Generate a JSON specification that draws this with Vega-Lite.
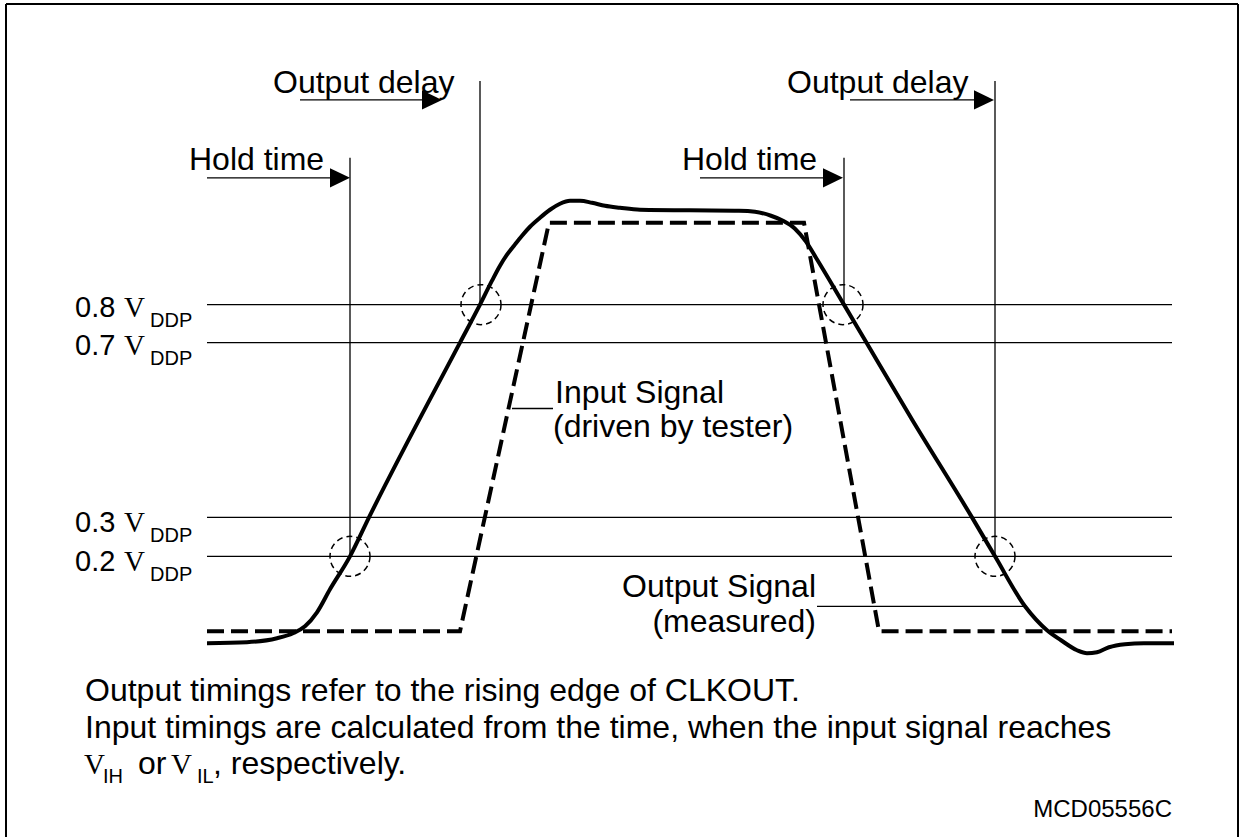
{
  "$schema": "https://vega.github.io/schema/vega-lite/v6.json",
  "width": 1243,
  "height": 838,
  "autosize": {"type": "fit", "contains": "padding"},
  "padding": 0,
  "background": "white",
  "config": {"view": {"stroke": null}},
  "datasets": {
    "segs": [
      {"kind": "frame", "x": 6, "y": 4, "x2": 1238, "y2": 4},
      {"kind": "frame", "x": 6, "y": 4, "x2": 6, "y2": 838},
      {"kind": "frame", "x": 1238, "y": 4, "x2": 1238, "y2": 838},
      {"kind": "level", "x": 207, "y": 305, "x2": 1172, "y2": 305},
      {"kind": "level", "x": 207, "y": 343, "x2": 1172, "y2": 343},
      {"kind": "level", "x": 207, "y": 518, "x2": 1172, "y2": 518},
      {"kind": "level", "x": 207, "y": 557, "x2": 1172, "y2": 557},
      {"kind": "level", "x": 350, "y": 158, "x2": 350, "y2": 557},
      {"kind": "level", "x": 480, "y": 81, "x2": 480, "y2": 305},
      {"kind": "level", "x": 844, "y": 158, "x2": 844, "y2": 305},
      {"kind": "level", "x": 995, "y": 81, "x2": 995, "y2": 557},
      {"kind": "level", "x": 300, "y": 100, "x2": 432, "y2": 100},
      {"kind": "level", "x": 207, "y": 178, "x2": 338, "y2": 178},
      {"kind": "level", "x": 700, "y": 178, "x2": 832, "y2": 178},
      {"kind": "level", "x": 850, "y": 100, "x2": 982, "y2": 100},
      {"kind": "level", "x": 512, "y": 409, "x2": 553, "y2": 409},
      {"kind": "level", "x": 817, "y": 607, "x2": 1025, "y2": 607}
    ],
    "heads": [
      {"x": 442, "y": 100},
      {"x": 350, "y": 178},
      {"x": 843, "y": 178},
      {"x": 994, "y": 100}
    ],
    "circles": [
      {"x": 350, "y": 557},
      {"x": 481, "y": 305},
      {"x": 843, "y": 305},
      {"x": 995, "y": 557}
    ],
    "signals": [
      {"signal": "Input", "x": 207, "y": 632},
      {"signal": "Input", "x": 460, "y": 632},
      {"signal": "Input", "x": 549, "y": 223},
      {"signal": "Input", "x": 804, "y": 223},
      {"signal": "Input", "x": 879, "y": 632},
      {"signal": "Input", "x": 1172, "y": 632},
      {"signal": "Output", "x": 207, "y": 644},
      {"signal": "Output", "x": 247, "y": 643},
      {"signal": "Output", "x": 277, "y": 639},
      {"signal": "Output", "x": 293, "y": 634},
      {"signal": "Output", "x": 305, "y": 627},
      {"signal": "Output", "x": 317, "y": 613},
      {"signal": "Output", "x": 330, "y": 590},
      {"signal": "Output", "x": 350, "y": 557},
      {"signal": "Output", "x": 369, "y": 518},
      {"signal": "Output", "x": 460, "y": 343},
      {"signal": "Output", "x": 480, "y": 305},
      {"signal": "Output", "x": 492, "y": 281},
      {"signal": "Output", "x": 500, "y": 266},
      {"signal": "Output", "x": 507, "y": 255},
      {"signal": "Output", "x": 514, "y": 246},
      {"signal": "Output", "x": 522, "y": 236},
      {"signal": "Output", "x": 530, "y": 227},
      {"signal": "Output", "x": 540, "y": 218},
      {"signal": "Output", "x": 550, "y": 210},
      {"signal": "Output", "x": 560, "y": 204},
      {"signal": "Output", "x": 570, "y": 201},
      {"signal": "Output", "x": 580, "y": 201},
      {"signal": "Output", "x": 592, "y": 203},
      {"signal": "Output", "x": 605, "y": 206},
      {"signal": "Output", "x": 620, "y": 208},
      {"signal": "Output", "x": 640, "y": 210},
      {"signal": "Output", "x": 739, "y": 211},
      {"signal": "Output", "x": 755, "y": 212},
      {"signal": "Output", "x": 771, "y": 216},
      {"signal": "Output", "x": 783, "y": 221},
      {"signal": "Output", "x": 795, "y": 229},
      {"signal": "Output", "x": 806, "y": 242},
      {"signal": "Output", "x": 816, "y": 258},
      {"signal": "Output", "x": 844, "y": 305},
      {"signal": "Output", "x": 867, "y": 344},
      {"signal": "Output", "x": 912, "y": 420},
      {"signal": "Output", "x": 972, "y": 518},
      {"signal": "Output", "x": 995, "y": 557},
      {"signal": "Output", "x": 1025, "y": 607},
      {"signal": "Output", "x": 1047, "y": 631},
      {"signal": "Output", "x": 1061, "y": 641},
      {"signal": "Output", "x": 1077, "y": 651},
      {"signal": "Output", "x": 1087, "y": 654},
      {"signal": "Output", "x": 1097, "y": 653},
      {"signal": "Output", "x": 1109, "y": 648},
      {"signal": "Output", "x": 1125, "y": 645},
      {"signal": "Output", "x": 1144, "y": 644},
      {"signal": "Output", "x": 1174, "y": 644}
    ],
    "texts": [
      {"kind": "main", "x": 273, "y": 93, "text": "Output delay"},
      {"kind": "main", "x": 787, "y": 93, "text": "Output delay"},
      {"kind": "main", "x": 189, "y": 170, "text": "Hold time"},
      {"kind": "main", "x": 682, "y": 170, "text": "Hold time"},
      {"kind": "main", "x": 555, "y": 403, "text": "Input Signal"},
      {"kind": "main", "x": 553, "y": 438, "text": "(driven by tester)"},
      {"kind": "mainright", "x": 816, "y": 598, "text": "Output Signal"},
      {"kind": "mainright", "x": 816, "y": 633, "text": "(measured)"},
      {"kind": "main", "x": 85, "y": 702, "text": "Output timings refer to the rising edge of CLKOUT."},
      {"kind": "main", "x": 85, "y": 739, "text": "Input timings are calculated from the time, when the input signal reaches"},
      {"kind": "main", "x": 138, "y": 775, "text": "or"},
      {"kind": "main", "x": 213, "y": 775, "text": ", respectively."},
      {"kind": "serif", "x": 84, "y": 775, "text": "V"},
      {"kind": "serif", "x": 171, "y": 775, "text": "V"},
      {"kind": "sub", "x": 103, "y": 784, "text": "IH"},
      {"kind": "sub", "x": 197, "y": 784, "text": "IL"},
      {"kind": "label", "x": 75, "y": 317, "text": "0.8"},
      {"kind": "label", "x": 75, "y": 355, "text": "0.7"},
      {"kind": "label", "x": 75, "y": 533, "text": "0.3"},
      {"kind": "label", "x": 75, "y": 572, "text": "0.2"},
      {"kind": "serif", "x": 124, "y": 317, "text": "V"},
      {"kind": "serif", "x": 124, "y": 355, "text": "V"},
      {"kind": "serif", "x": 124, "y": 533, "text": "V"},
      {"kind": "serif", "x": 124, "y": 572, "text": "V"},
      {"kind": "sub", "x": 150, "y": 327, "text": "DDP"},
      {"kind": "sub", "x": 150, "y": 365, "text": "DDP"},
      {"kind": "sub", "x": 150, "y": 543, "text": "DDP"},
      {"kind": "sub", "x": 150, "y": 582, "text": "DDP"},
      {"kind": "code", "x": 1172, "y": 818, "text": "MCD05556C"}
    ]
  },
  "encoding": {
    "x": {"field": "x", "type": "quantitative", "axis": null, "scale": {"domain": [0, 1243], "nice": false, "zero": false}},
    "y": {"field": "y", "type": "quantitative", "axis": null, "scale": {"domain": [0, 838], "reverse": true, "nice": false, "zero": false}}
  },
  "layer": [
    {
      "data": {"name": "segs"},
      "transform": [{"filter": "datum.kind === 'frame'"}],
      "mark": {"type": "rule", "color": "black", "strokeWidth": 2},
      "encoding": {"x2": {"field": "x2"}, "y2": {"field": "y2"}}
    },
    {
      "data": {"name": "segs"},
      "transform": [{"filter": "datum.kind === 'level'"}],
      "mark": {"type": "rule", "color": "black", "strokeWidth": 1.3},
      "encoding": {"x2": {"field": "x2"}, "y2": {"field": "y2"}}
    },
    {
      "data": {"name": "circles"},
      "mark": {"type": "point", "shape": "circle", "size": 1600, "filled": false, "stroke": "black", "strokeWidth": 1.5, "strokeDash": [6, 4], "opacity": 1}
    },
    {
      "data": {"name": "heads"},
      "mark": {"type": "point", "shape": "M-1,-0.48L0,0L-1,0.48Z", "size": 1600, "filled": true, "color": "black", "opacity": 1, "strokeWidth": 0}
    },
    {
      "data": {"name": "signals"},
      "transform": [{"filter": "datum.signal === 'Input'"}],
      "mark": {"type": "line", "color": "black", "strokeWidth": 4, "strokeDash": [17, 7], "interpolate": "linear"}
    },
    {
      "data": {"name": "signals"},
      "transform": [{"filter": "datum.signal === 'Output'"}],
      "mark": {"type": "line", "color": "black", "strokeWidth": 4, "interpolate": "monotone"}
    },
    {
      "data": {"name": "texts"},
      "transform": [{"filter": "datum.kind === 'main'"}],
      "mark": {"type": "text", "color": "black", "font": "Liberation Sans", "fontSize": 32, "align": "left", "baseline": "alphabetic"},
      "encoding": {"text": {"field": "text"}}
    },
    {
      "data": {"name": "texts"},
      "transform": [{"filter": "datum.kind === 'mainright'"}],
      "mark": {"type": "text", "color": "black", "font": "Liberation Sans", "fontSize": 32, "align": "right", "baseline": "alphabetic"},
      "encoding": {"text": {"field": "text"}}
    },
    {
      "data": {"name": "texts"},
      "transform": [{"filter": "datum.kind === 'label'"}],
      "mark": {"type": "text", "color": "black", "font": "Liberation Sans", "fontSize": 29, "align": "left", "baseline": "alphabetic"},
      "encoding": {"text": {"field": "text"}}
    },
    {
      "data": {"name": "texts"},
      "transform": [{"filter": "datum.kind === 'serif'"}],
      "mark": {"type": "text", "color": "black", "font": "Liberation Serif", "fontSize": 29, "align": "left", "baseline": "alphabetic"},
      "encoding": {"text": {"field": "text"}}
    },
    {
      "data": {"name": "texts"},
      "transform": [{"filter": "datum.kind === 'sub'"}],
      "mark": {"type": "text", "color": "black", "font": "Liberation Sans", "fontSize": 20, "align": "left", "baseline": "alphabetic"},
      "encoding": {"text": {"field": "text"}}
    },
    {
      "data": {"name": "texts"},
      "transform": [{"filter": "datum.kind === 'code'"}],
      "mark": {"type": "text", "color": "black", "font": "Liberation Sans", "fontSize": 24, "align": "right", "baseline": "alphabetic"},
      "encoding": {"text": {"field": "text"}}
    }
  ]
}
